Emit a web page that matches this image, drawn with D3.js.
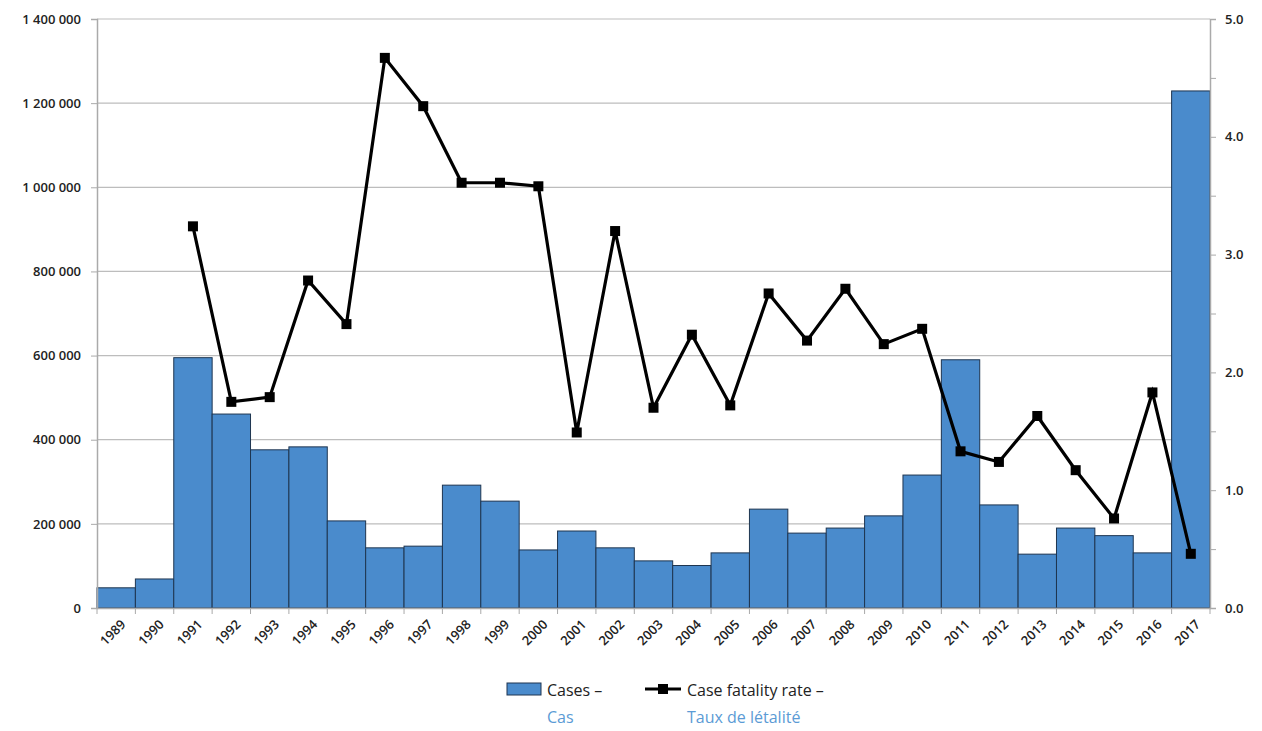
<!DOCTYPE html>
<html>
<head>
<meta charset="utf-8">
<script src="https://cdn.jsdelivr.net/npm/d3@7"></script>
<style>
  body { margin: 0; background: #fff; }
  svg text { font-family: "Open Sans", "Noto Sans", sans-serif; }
  .tick text { font-size: 13px; font-weight: 600; fill: #222; }
  .legend text { font-size: 16px; }
</style>
</head>
<body>
<div id="main"></div>
<script>
const ctx = {
    w: 1262,
    h: 731,
    left: 97,
    right: 1210,
    top: 19,
    bottom: 608,
    BAR: "#4a8bcc",
    BAR_STROKE: "#1e3550",
    FR_BLUE: "#5b9bd5",
};

// years on the category axis
const years = ["1989","1990","1991","1992","1993","1994","1995","1996","1997","1998",
               "1999","2000","2001","2002","2003","2004","2005","2006","2007","2008",
               "2009","2010","2011","2012","2013","2014","2015","2016","2017"];
// reported cases per year
const cases = [48000, 69000, 595000, 461000, 376000, 383000, 207000, 143000, 147000, 292000,
               254000, 138000, 183000, 143000, 112000, 101000, 131000, 235000, 178000, 190000,
               219000, 316000, 590000, 245000, 128000, 190000, 172000, 131000, 1229000];
// case fatality rate (%), no value for 1989-1990
const cfr = [null, null, 3.24, 1.75, 1.79, 2.78, 2.41, 4.67, 4.26, 3.61,
             3.61, 3.58, 1.49, 3.20, 1.70, 2.32, 1.72, 2.67, 2.27, 2.71,
             2.24, 2.37, 1.33, 1.24, 1.63, 1.17, 0.76, 1.83, 0.46];
const leftTicks = [0, 200000, 400000, 600000, 800000, 1000000, 1200000, 1400000];
const rightTicks = [0, 0.5, 1, 1.5, 2, 2.5, 3, 3.5, 4, 4.5, 5];

function fmtSpace(v){
    return d3.format(",")(v).replace(/,/g, " ");
}

function createViz(){
    let svgEl = d3.select("#main").append("svg")
                  .attr("width", ctx.w)
                  .attr("height", ctx.h);

    ctx.xScale = d3.scaleBand().domain(years)
                   .range([ctx.left, ctx.right])
                   .padding(0);
    ctx.yScale = d3.scaleLinear().domain([0, 1400000])
                   .range([ctx.bottom, ctx.top]);
    ctx.y2Scale = d3.scaleLinear().domain([0, 5])
                    .range([ctx.bottom, ctx.top]);

    let bkgG = svgEl.append("g").attr("id", "bkgG");
    // horizontal gridlines
    bkgG.selectAll("line.grid")
        .data(leftTicks.slice(1))
        .enter()
        .append("line")
        .attr("class", "grid")
        .attr("x1", ctx.left)
        .attr("x2", ctx.right)
        .attr("y1", (d) => ctx.yScale(d))
        .attr("y2", (d) => ctx.yScale(d))
        .style("stroke", "#bdbdbd")
        .style("stroke-width", 1.2);

    // bars
    svgEl.append("g").attr("id", "bars")
         .selectAll("rect")
         .data(years)
         .enter()
         .append("rect")
         .attr("x", (d) => ctx.xScale(d))
         .attr("width", ctx.xScale.bandwidth())
         .attr("y", (d, i) => ctx.yScale(cases[i]))
         .attr("height", (d, i) => ctx.bottom - ctx.yScale(cases[i]))
         .attr("fill", ctx.BAR)
         .attr("stroke", ctx.BAR_STROKE)
         .attr("stroke-width", 1);

    // left axis
    let yAx = svgEl.append("g")
                   .attr("transform", `translate(${ctx.left},0)`)
                   .call(d3.axisLeft(ctx.yScale).tickValues(leftTicks)
                           .tickFormat(fmtSpace).tickSize(6).tickPadding(10));
    // right axis
    let y2Ax = svgEl.append("g")
                    .attr("transform", `translate(${ctx.right},0)`)
                    .call(d3.axisRight(ctx.y2Scale).tickValues(rightTicks)
                            .tickFormat((d) => (d % 1 === 0 ? d3.format(".1f")(d) : ""))
                            .tickSize(6).tickPadding(9));
    // bottom axis, ticks between categories
    let xAx = svgEl.append("g")
                   .attr("transform", `translate(0,${ctx.bottom})`)
                   .call(d3.axisBottom(ctx.xScale).tickSize(0).tickPadding(0));
    xAx.selectAll(".tick text")
       .attr("text-anchor", "end")
       .attr("transform", "translate(7,14) rotate(-45)")
       .attr("dy", "0.35em");
    xAx.selectAll("line.sep")
       .data(years.concat(["end"]))
       .enter()
       .append("line")
       .attr("class", "sep")
       .attr("x1", (d, i) => ctx.left + i * ctx.xScale.step())
       .attr("x2", (d, i) => ctx.left + i * ctx.xScale.step())
       .attr("y1", 0)
       .attr("y2", 6)
       .style("stroke", "#aaa");
    [yAx, y2Ax, xAx].forEach(function(ax){
        ax.select(".domain").style("stroke", "#aaa").style("stroke-width", 1.5);
        ax.selectAll(".tick line").style("stroke", "#aaa");
    });

    // fatality rate line
    let pts = years.map((d, i) => ({year: d, v: cfr[i]})).filter((d) => d.v !== null);
    let lineGen = d3.line()
                    .x((d) => ctx.xScale(d.year) + ctx.xScale.bandwidth() / 2)
                    .y((d) => ctx.y2Scale(d.v));
    let lineG = svgEl.append("g").attr("id", "cfr");
    lineG.append("path")
         .datum(pts)
         .attr("d", lineGen)
         .attr("fill", "none")
         .attr("stroke", "#000")
         .attr("stroke-width", 3.2);
    lineG.selectAll("rect")
         .data(pts)
         .enter()
         .append("rect")
         .attr("x", (d) => ctx.xScale(d.year) + ctx.xScale.bandwidth() / 2 - 5)
         .attr("y", (d) => ctx.y2Scale(d.v) - 5)
         .attr("width", 10)
         .attr("height", 10)
         .attr("fill", "#000");

    // legend
    let lg = svgEl.append("g").attr("class", "legend");
    lg.append("rect")
      .attr("x", 507).attr("y", 683).attr("width", 34).attr("height", 12)
      .attr("fill", ctx.BAR).attr("stroke", ctx.BAR_STROKE);
    lg.append("text").attr("x", 547).attr("y", 696).attr("fill", "#222").text("Cases –");
    lg.append("text").attr("x", 547).attr("y", 723).attr("fill", ctx.FR_BLUE).text("Cas");
    lg.append("line")
      .attr("x1", 645).attr("x2", 681).attr("y1", 689).attr("y2", 689)
      .attr("stroke", "#000").attr("stroke-width", 3);
    lg.append("rect")
      .attr("x", 658).attr("y", 684).attr("width", 10).attr("height", 10).attr("fill", "#000");
    lg.append("text").attr("x", 687).attr("y", 696).attr("fill", "#222").text("Case fatality rate –");
    lg.append("text").attr("x", 687).attr("y", 723).attr("fill", ctx.FR_BLUE).text("Taux de létalité");
}

createViz();
</script>
</body>
</html>
